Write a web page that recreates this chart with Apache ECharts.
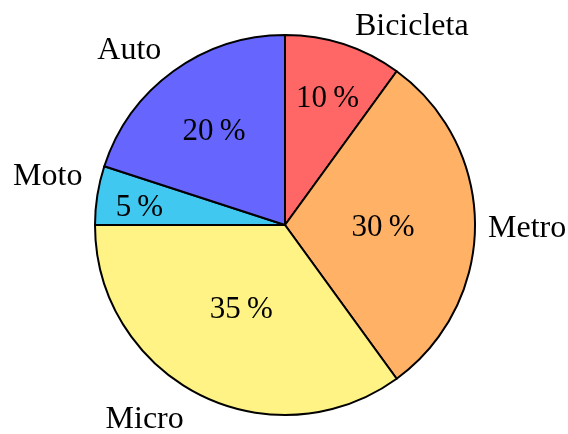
<!DOCTYPE html>
<html>
<head>
<meta charset="utf-8">
<script src="https://cdn.jsdelivr.net/npm/echarts@6/dist/echarts.min.js"></script>
<style>
  html, body { margin: 0; padding: 0; background: #fff; }
  #chart { width: 568px; height: 434px; }
</style>
</head>
<body>
<div id="chart"></div>
<script>
// Transport modes and their share (%)
const categories = ['Bicicleta', 'Metro', 'Micro', 'Moto', 'Auto'];
const shares = [10, 30, 35, 5, 20];
const sliceColors = ['#FF6666', '#FFB266', '#FFF385', '#40C8F0', '#6666FF'];

// Pie geometry
const CENTER = [285, 225];
const RADIUS = 190;
const FONT = 'Liberation Serif';
const NAME_SIZE = 32;
const PCT_SIZE = 31;

// Distance of each percentage label from the centre, as a fraction of the radius
const innerLabelRatio = [0.71, 0.50, 0.49, 0.76, 0.62];
const innerShiftY = [5, 3, -1, 6, 5];
// Extra radial gap for the category names and a vertical nudge
const nameLineLength = [20, 8, 22, 10, 12];
const nameShiftY = [1, 4, 6, -17, -11];

const chart = echarts.init(document.getElementById('chart'), null, { renderer: 'canvas' });

const mainData = categories.map((name, i) => ({
  name,
  value: shares[i],
  itemStyle: { color: sliceColors[i] },
  labelLine: { length: nameLineLength[i], length2: 0, show: false }
}));

const series = [{
  type: 'pie',
  center: CENTER,
  radius: [0, RADIUS],
  startAngle: 90,
  clockwise: true,
  avoidLabelOverlap: false,
  animation: false,
  silent: true,
  itemStyle: { borderColor: '#000', borderWidth: 2 },
  label: {
    show: true,
    position: 'outside',
    formatter: '{b}',
    fontFamily: FONT,
    fontSize: NAME_SIZE,
    color: '#000',
    distanceToLabelLine: 5
  },
  labelLine: { show: false, length: 20, length2: 0 },
  labelLayout: (params) => ({ dy: nameShiftY[params.dataIndex] }),
  data: mainData
}];

// One transparent ring per slice so each percentage sits at its own distance
categories.forEach((name, k) => {
  const d = innerLabelRatio[k] * RADIUS;
  series.push({
    type: 'pie',
    center: CENTER,
    radius: [0, 2 * d],
    startAngle: 90,
    clockwise: true,
    avoidLabelOverlap: false,
    animation: false,
    silent: true,
    z: 5,
    itemStyle: { color: 'transparent', borderWidth: 0 },
    labelLine: { show: false },
    labelLayout: () => ({ dy: innerShiftY[k] }),
    data: categories.map((n, i) => ({
      name: n,
      value: shares[i],
      label: {
        show: i === k,
        position: 'inside',
        formatter: shares[i] + '\u2009%',
        fontFamily: FONT,
        fontSize: PCT_SIZE,
        color: '#000'
      }
    }))
  });
});

chart.setOption({
  backgroundColor: '#fff',
  animation: false,
  series
});
</script>
</body>
</html>
